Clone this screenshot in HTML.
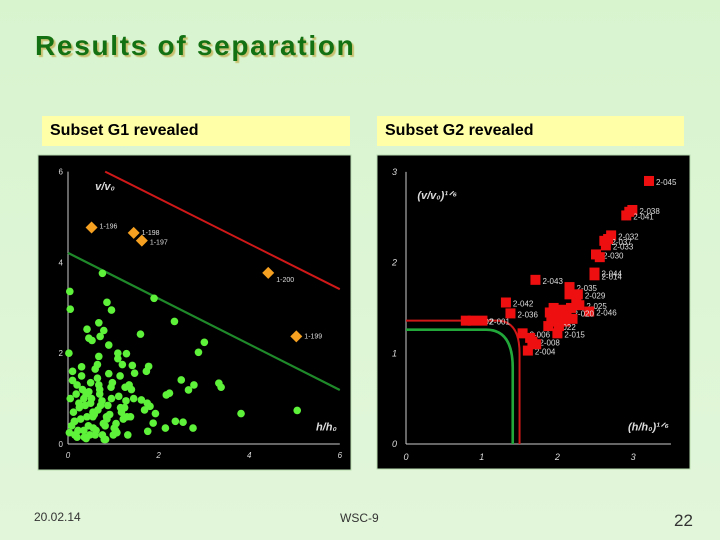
<!DOCTYPE html>
<html><head><meta charset="utf-8"><style>
body{margin:0;width:720px;height:540px;overflow:hidden;background:#dcf5d2;font-family:"Liberation Sans",sans-serif;}
.abs{position:absolute}
</style></head><body>
<div class="abs" style="left:0;top:0;width:720px;height:540px;background:linear-gradient(#d8f4cf,#e2f6da)"></div>
<div class="abs" style="left:35px;top:30px;font-size:28px;font-weight:bold;color:#137013;text-shadow:2px 2px 1px #c8c070;letter-spacing:1.7px">Results of separation</div>
<div class="abs" style="left:42px;top:116px;width:308px;height:30px;background:#ffffa8"><span style="position:absolute;left:8px;top:6px;font-size:16px;font-weight:bold">Subset G1 revealed</span></div>
<div class="abs" style="left:377px;top:116px;width:307px;height:30px;background:#ffffa8"><span style="position:absolute;left:8px;top:6px;font-size:16px;font-weight:bold">Subset G2 revealed</span></div>
<svg class="abs" style="left:0;top:0" width="720" height="540" id="svg">
<rect x="38" y="155" width="313" height="315" fill="#000" stroke="#b8dcb0"/>
<rect x="377" y="155" width="313" height="314" fill="#000" stroke="#b8dcb0"/>
</svg>
<div class="abs" style="left:34px;top:510px;font-size:12px;color:#333">20.02.14</div>
<div class="abs" style="left:340px;top:511px;font-size:12px;color:#333">WSC-9</div>
<div class="abs" style="left:674px;top:511px;font-size:17px;color:#333">22</div>
<script>
// Chart 1 data
const g1Ticks=[0,2,4,6];
const g1X=[0.76,0.04,0.05,0.86,0.96,1.9,2.35,3.01,2.88,1.6,0.68,0.79,0.42,0.46,0.53,0.71,0.9,0.68,0.02,1.1,1.1,1.29,1.42,1.78,1.73,1.47,2.5,2.78,2.66,3.33,3.38,2.24,2.17,3.82,5.06,1.93,1.88,1.76,2.15,2.37,2.54,2.76,1.75,1.81,1.62,1.69,0.83,
0.1,0.2,0.3,0.4,0.5,0.6,0.7,0.15,0.25,0.35,0.45,0.55,0.65,0.75,0.85,0.95,1.05,1.15,1.25,1.35,0.05,0.12,0.22,0.32,0.42,0.52,0.62,0.72,0.82,0.92,1.02,1.12,1.22,1.32,1.45,0.08,0.18,0.28,0.38,0.48,0.58,0.68,0.78,0.88,0.98,1.08,1.18,1.28,1.38,0.03,0.14,0.24,0.36,0.46,0.56,0.66,0.76,0.86,0.96,1.06,1.16,1.26,0.1,0.3,0.5,0.7,0.9,1.2,1.4,0.2,0.4,0.6,0.8,1.0,0.35,0.65,1.3,0.15,0.55];
const g1Y=[3.76,3.36,2.97,3.12,2.95,3.21,2.7,2.24,2.02,2.42,2.67,2.5,2.53,2.33,2.28,2.37,2.18,1.93,2.0,2.0,1.88,1.99,1.73,1.71,1.6,1.56,1.41,1.3,1.19,1.34,1.25,1.12,1.08,0.67,0.74,0.67,0.46,0.28,0.35,0.5,0.48,0.35,0.9,0.83,0.97,0.75,0.1,
1.6,1.3,1.7,1.1,0.9,1.65,1.2,0.5,0.8,1.0,0.4,0.7,1.45,0.95,0.6,1.25,0.3,1.5,0.8,1.3,1.0,0.7,0.3,1.2,0.6,1.0,0.3,0.85,0.4,0.65,0.35,1.05,0.55,0.2,1.0,0.4,1.1,0.55,0.85,0.2,0.65,1.3,0.45,0.85,1.35,0.25,0.7,0.95,0.6,0.25,0.5,0.9,0.15,1.15,0.35,0.75,0.2,0.55,1.0,0.45,0.8,1.25,1.4,1.5,1.35,1.1,1.55,1.75,1.2,0.15,0.12,0.2,0.1,0.2,0.3,1.75,0.6,0.2,0.6,0.25];
const g1DiaX=[0.52,1.45,1.63,4.42,5.04];
const g1DiaY=[4.77,4.65,4.48,3.77,2.37];
const g1DiaLbl=["1-196","1-198","1-197","1-200","1-199"];
const g1Red=[[0.82,6],[6,3.41]];
const g1Green=[[0,4.21],[6,1.19]];
// Chart 2 data
const g2TicksX=[0,1,2,3];
const g2TicksY=[0,1,2,3];
const g2X=[3.21,2.99,2.91,2.95,2.71,2.62,2.64,2.67,2.51,2.56,2.49,2.49,1.71,2.16,2.27,2.16,1.32,1.38,2.29,2.42,1.9,1.95,2.0,2.05,2.1,1.92,2.12,2.2,1.88,2.02,0.79,1.01,0.88,2.0,1.54,1.67,1.61,1.64,1.72,2.25,2.18];
const g2Y=[2.9,2.58,2.52,2.56,2.3,2.24,2.19,2.26,2.09,2.06,1.89,1.86,1.81,1.73,1.65,1.65,1.56,1.44,1.53,1.46,1.45,1.5,1.4,1.48,1.35,1.35,1.45,1.38,1.3,1.3,1.36,1.36,1.36,1.22,1.22,1.13,1.03,1.17,1.1,1.6,1.5];
const g2Lbl=["2-045","2-038","2-041","","2-032","2-037","2-033","","2-030","","2-044","2-014","2-043","2-035","2-029","","2-042","2-036","2-025","2-046","","","","","","","2-020","","2-022","","2-002","2-001","","2-015","2-006","2-008","2-004","","",""];
const g2RedX=1.5, g2RedY=1.36, g2GreenX=1.41, g2GreenY=1.26;

const svg=document.getElementById('svg');
const NS='http://www.w3.org/2000/svg';
function mk(tag,attrs,name){const e=document.createElementNS(NS,tag);for(const k in attrs)e.setAttribute(k,attrs[k]);


svg.appendChild(e);return e;}
function txt(x,y,s,size,name,anchor,style){const t=mk('text',{x:x,y:y,fill:'#ddd','font-size':size,'font-family':'Liberation Sans, sans-serif','text-anchor':anchor||'start','font-style':style||'normal'},name);t.textContent=s;return t;}

// chart 1 axes
const x1=v=>68+v*45.3, y1=v=>444-v*45.4;
mk('line',{x1:x1(0),y1:y1(0),x2:x1(6),y2:y1(0),stroke:'#ccc','stroke-width':1},'g1-x-axis');
mk('line',{x1:x1(0),y1:y1(0),x2:x1(0),y2:y1(6),stroke:'#ccc','stroke-width':1},'g1-y-axis');
g1Ticks.forEach(t=>{txt(x1(t),y1(0)+14,String(t),8,'g1-x-tick','middle','italic');txt(x1(0)-5,y1(t)+3,String(t),8,'g1-y-tick','end');});
txt(x1(0.6),y1(5.6),'v/v₀',11,'g1-y-axis-title','start','italic').setAttribute('font-weight','bold');
txt(x1(6)-3,y1(0.3),'h/h₀',11,'g1-x-axis-title','end','italic').setAttribute('font-weight','bold');
mk('line',{x1:x1(g1Red[0][0]),y1:y1(g1Red[0][1]),x2:x1(g1Red[1][0]),y2:y1(g1Red[1][1]),stroke:'#d01818','stroke-width':2},'g1-upper-boundary');
mk('line',{x1:x1(g1Green[0][0]),y1:y1(g1Green[0][1]),x2:x1(g1Green[1][0]),y2:y1(g1Green[1][1]),stroke:'#1f8a2a','stroke-width':2.2},'g1-lower-boundary');
g1X.forEach((v,i)=>mk('circle',{cx:x1(v),cy:y1(g1Y[i]),r:3.8,fill:'#5ef23a'},'g1-point'));
g1DiaX.forEach((v,i)=>{const cx=x1(v),cy=y1(g1DiaY[i]);mk('polygon',{points:`${cx},${cy-6} ${cx+6},${cy} ${cx},${cy+6} ${cx-6},${cy}`,fill:'#f5a020'},'g1-diamond');
txt(cx+8,cy+(i==0?1:i==2?4:i==3?9:2),g1DiaLbl[i],7,'g1-diamond-label');});

// chart 2
const x2=v=>406+v*75.7, y2=v=>444-v*90.7;
mk('line',{x1:x2(0),y1:y2(0),x2:x2(3.5),y2:y2(0),stroke:'#ccc'},'g2-x-axis');
mk('line',{x1:x2(0),y1:y2(0),x2:x2(0),y2:y2(3),stroke:'#ccc'},'g2-y-axis');
g2TicksX.forEach(t=>txt(x2(t),y2(0)+16,String(t),9,'g2-x-tick','middle','italic'));
g2TicksY.forEach(t=>txt(x2(0)-9,y2(t)+3,String(t),9,'g2-y-tick','end','italic'));
txt(x2(0.15),y2(2.7),'(v/v₀)¹ᐟ⁶',11,'g2-y-axis-title','start','italic').setAttribute('font-weight','bold');
txt(x2(3.5)-2,y2(0.15),'(h/h₀)¹ᐟ⁶',11,'g2-x-axis-title','end','italic').setAttribute('font-weight','bold');
function corner(X,Y,r){return `M${x2(0)},${y2(Y)} L${x2(X-r)},${y2(Y)} Q${x2(X)},${y2(Y)} ${x2(X)},${y2(Y-r*1.2)} L${x2(X)},${y2(0)}`;}
mk('path',{d:corner(g2RedX,g2RedY,0.3),fill:'none',stroke:'#d01818','stroke-width':2},'g2-upper-boundary');
mk('path',{d:corner(g2GreenX,g2GreenY,0.35),fill:'none',stroke:'#22a83a','stroke-width':2.6},'g2-lower-boundary');
g2X.forEach((v,i)=>{const cx=x2(v),cy=y2(g2Y[i]);mk('rect',{x:cx-5,y:cy-5,width:10,height:10,fill:'#ee1010'},'g2-point');
if(g2Lbl[i])txt(cx+7,cy+4,g2Lbl[i],8,'g2-point-label');});
</script>
</body></html>
